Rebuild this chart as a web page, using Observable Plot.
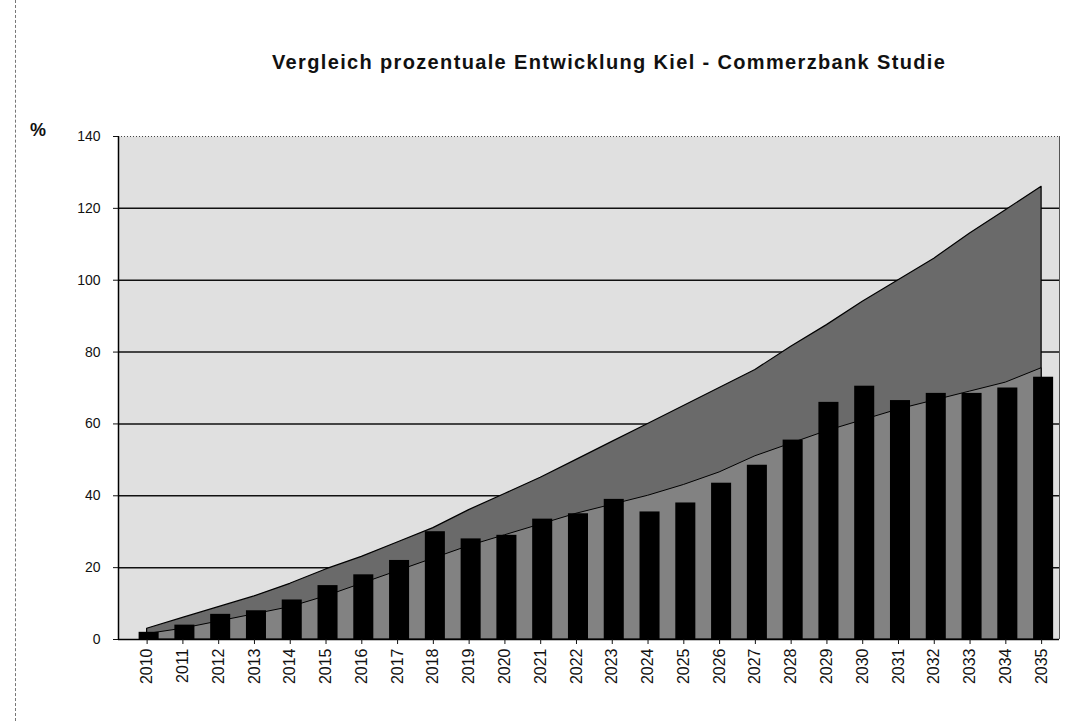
<!DOCTYPE html>
<html><head><meta charset="utf-8">
<script src="https://cdn.jsdelivr.net/npm/d3@7"></script>
<script src="https://cdn.jsdelivr.net/npm/@observablehq/plot@0.6"></script>
<style>
body{margin:0;background:#fff;width:1068px;height:721px;overflow:hidden;position:relative;font-family:"Liberation Sans",Arial,sans-serif;}
#title{position:absolute;left:272px;top:50px;font-size:20px;line-height:24px;font-weight:bold;letter-spacing:1.35px;white-space:nowrap;color:#111;}
#unit{position:absolute;left:30px;top:120px;font-size:18px;font-weight:bold;color:#111;}
#chart{position:absolute;left:0;top:100px;}
#scanline{position:absolute;left:15px;top:0;height:721px;border-left:1px dashed #777;}
</style></head>
<body>
<div id="scanline"></div>
<div id="title">Vergleich prozentuale Entwicklung Kiel - Commerzbank Studie</div>
<div id="unit">%</div>
<div id="chart"></div>
<script>
const years = [2010,2011,2012,2013,2014,2015,2016,2017,2018,2019,2020,2021,2022,2023,2024,2025,2026,2027,2028,2029,2030,2031,2032,2033,2034,2035];
// Kiel (black columns)
const kiel = [2,4,7,8,11,15,18,22,30,28,29,33.5,35,39,35.5,38,43.5,48.5,55.5,66,70.5,66.5,68.5,68.5,70,73];
// Commerzbank Studie (dark back area)
const commerzbank = [3,6,9,12,15.5,19.5,23,27,31,36,40.5,45,50,55,60,65,70,75,81.5,87.5,94,100,106,113,119.5,126];
// middle area (lighter band)
const trend = [1.5,3,5,7,9,12,15.5,19,22.5,26,29,32,35,37.5,40,43,46.5,51,54.5,58,61,64,66.5,69,71.5,75.5];
const yTicks = [0,20,40,60,80,100,120,140];

const data = years.map((year, i) => ({year, kiel: kiel[i], commerzbank: commerzbank[i], trend: trend[i]}));

const chart = Plot.plot({
  width: 1068, height: 621,
  marginLeft: 118, marginRight: 9, marginTop: 36, marginBottom: 82,
  x: {type: "linear", domain: [2009.2, 2035.5]},
  y: {domain: [0, 140]},
  style: {fontFamily: "Liberation Sans, Arial, sans-serif", color: "#111", background: "transparent"},
  marks: [
    Plot.frame({fill: "#e0e0e0", stroke: "none"}),
    Plot.ruleY(yTicks.filter(v => v > 0 && v < 140), {stroke: "#111", strokeWidth: 1.5}),
    Plot.ruleY([140], {stroke: "#444", strokeDasharray: "1,2"}),
    Plot.areaY(data, {x: "year", y: "commerzbank", fill: "#6a6a6a", stroke: "#000", strokeWidth: 1.2}),
    Plot.areaY(data, {x: "year", y: "trend", fill: "#828282", stroke: "#000", strokeWidth: 1}),
    Plot.rectY(data, {x1: d => d.year - 0.28, x2: d => d.year + 0.28, y: "kiel", fill: "#000", dx: 2}),
    Plot.ruleY([0], {stroke: "#000", strokeWidth: 1.5}),
    Plot.ruleX([2009.2], {stroke: "#000", strokeWidth: 1.5}),
    Plot.ruleX([2035.5], {stroke: "#555"}),
    Plot.axisY({ticks: yTicks, tickSize: 5, tickPadding: 13, fontSize: 14, label: null}),
    Plot.axisX({ticks: years, tickFormat: d => String(d), tickRotate: -90, tickSize: 5, tickPadding: 4, fontSize: 16, label: null})
  ]
});
document.getElementById("chart").appendChild(chart);
</script>
</body></html>
